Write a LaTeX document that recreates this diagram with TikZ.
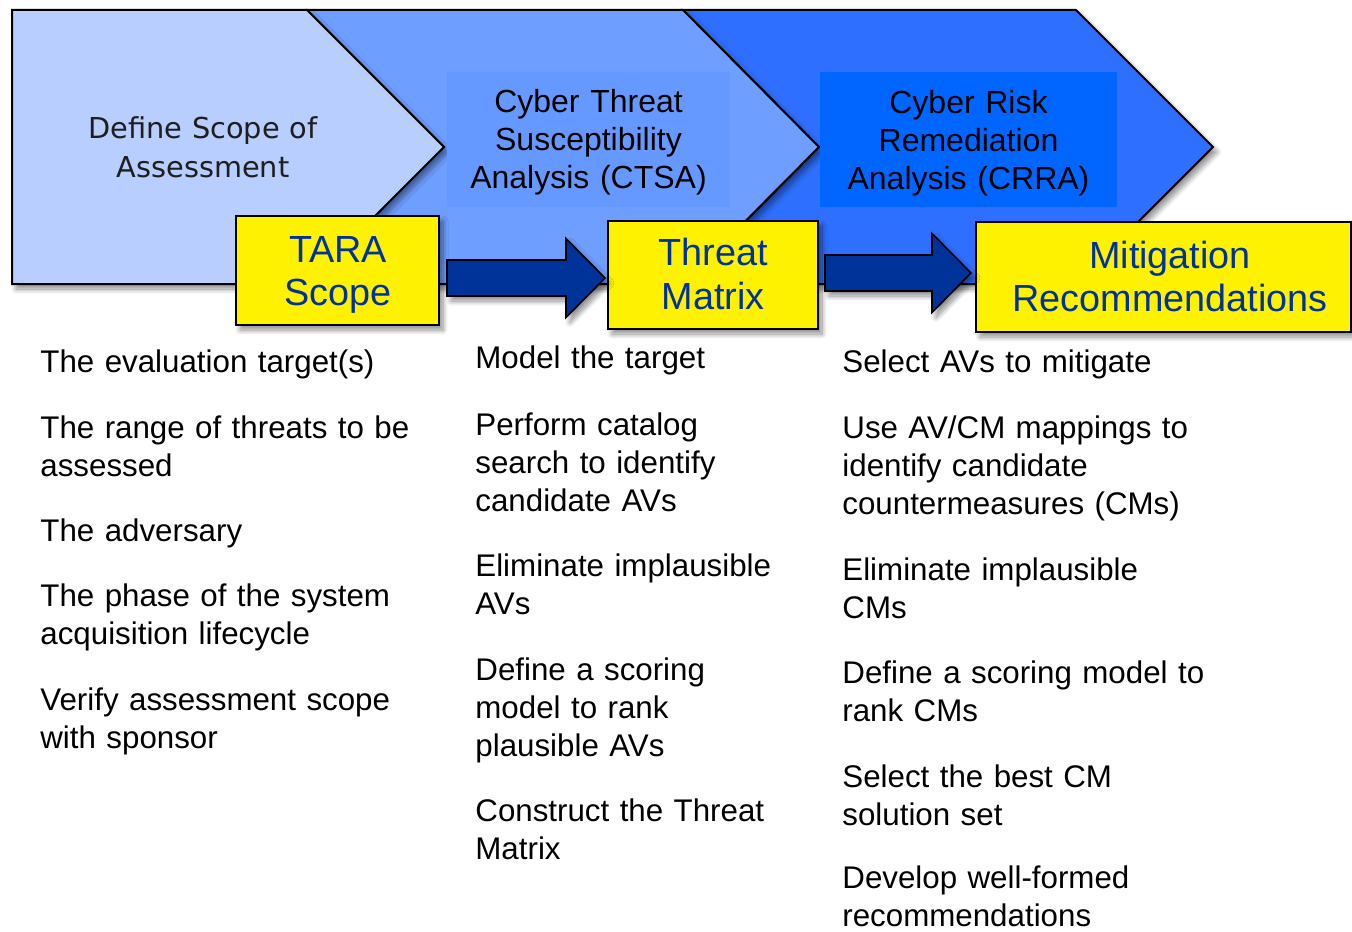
\documentclass[tikz,border=0pt]{standalone}
\usepackage{fontspec}
\setmainfont{Liberation Sans}
\newfontfamily\scopefont{DejaVu Sans}
\usetikzlibrary{calc,shadows.blur}

\definecolor{phaseA}{HTML}{B8CEFF}
\definecolor{phaseB}{HTML}{6E9EFF}
\definecolor{phaseC}{HTML}{2E6FFF}
\definecolor{panelB}{HTML}{6699FF}
\definecolor{panelC}{HTML}{0066FF}
\definecolor{navy}{HTML}{003399}
\definecolor{inkgray}{HTML}{1E1E1E}

\tikzset{
  softshadow/.style={blur shadow={shadow xshift=2pt, shadow yshift=-2.5pt,
      shadow blur radius=2.5pt, shadow blur steps=10, shadow opacity=45}},
  phase/.style={draw=black, line width=1pt, line join=miter, softshadow},
  panel/.style={inner sep=0pt, minimum height=67.5pt},
  headtext/.style={font=\fontsize{16}{19}\selectfont, text width=160pt,
      align=center, inner sep=0pt, anchor=base},
  outcome/.style={draw=black, line width=1pt, fill=yellow, inner sep=0pt, softshadow},
  outtext/.style={font=\fontsize{18.9}{21.75}\selectfont, text=navy,
      text width=180pt, align=center, inner sep=0pt, anchor=base},
  flow/.style={draw=black, line width=0.8pt, fill=navy, line join=miter, softshadow},
  task/.style={font=\fontsize{15.65}{19}\selectfont, text width=200pt,
      align=left, inner sep=0pt, anchor=base west},
}

% block arrow: #1 = tail point, #2 = tip point (tip height gives the axis)
\newcommand{\flowarrow}[2]{%
  \draw[flow] let \p1=#1, \p2=#2 in
    (\x1,\y2+9pt) -- (\x2-19.5pt,\y2+9pt) -- (\x2-19.5pt,\y2+19.75pt)
    -- (\x2,\y2) -- (\x2-19.5pt,\y2-19.75pt) -- (\x2-19.5pt,\y2-9pt)
    -- (\x1,\y2-9pt) -- cycle;}

\begin{document}
\begin{tikzpicture}[x=0.5pt,y=-0.5pt]
\useasboundingbox (0,0) rectangle (1352,931);

% three process chevrons, back to front
\draw[phase, fill=phaseC] (683,10) -- (1076,10) -- (1213,147) -- (1076,284)
  -- (683,284) -- (819,147) -- cycle;
\draw[phase, fill=phaseB] (307,10) -- (683,10) -- (819,147) -- (683,284)
  -- (307,284) -- (444,147) -- cycle;
\draw[phase, fill=phaseA] (12,10) -- (307,10) -- (444,147) -- (307,284)
  -- (12,284) -- cycle;

% phase titles
\node[font=\scopefont\fontsize{14.4}{19.5}\selectfont, text=inkgray,
  text width=150pt, align=center, inner sep=0pt, anchor=base]
  (scope-title) at (203,138) {Define Scope of\\Assessment};

\node[panel, fill=panelB, minimum width=141.5pt] (ctsa-panel) at (588.5,139.5) {};
\node[headtext] (ctsa-title) at (588.5,112.5)
  {Cyber Threat\\Susceptibility\\Analysis (CTSA)};

\node[panel, fill=panelC, minimum width=148.5pt] (crra-panel) at (968.5,139.5) {};
\node[headtext] (crra-title) at (968.5,113)
  {Cyber Risk\\Remediation\\Analysis (CRRA)};

% outcome boxes
\node[outcome, minimum width=101.5pt, minimum height=54.5pt] (tara) at (337.5,270.5) {};
\node[outtext] (tara-text) at (338,262) {TARA\\Scope};

\node[outcome, minimum width=105pt, minimum height=54pt] (threat) at (713,275) {};
\node[outtext] (threat-text) at (713,265.5) {Threat\\Matrix};

\node[outcome, minimum width=187.5pt, minimum height=55pt] (mitig) at (1163.5,277) {};
\node[outtext] (mitig-text) at (1170,268) {Mitigation\\Recommendations};

% flow between outcomes
\flowarrow{($(tara.east)+(7,0)$)}{($(threat.west)+(-2,3)$)}
\flowarrow{($(threat.east)+(6,0)$)}{($(mitig.west)+(-4,-4)$)}

% scope activities
\node[task] (s1) at (40,372) {The evaluation target(s)};
\node[task] (s2) at (40,438) {The range of threats to be\\assessed};
\node[task] (s3) at (40,541) {The adversary};
\node[task] (s4) at (40,606) {The phase of the system\\acquisition lifecycle};
\node[task] (s5) at (40,710) {Verify assessment scope\\with sponsor};

% CTSA activities
\node[task] (c1) at (475,368) {Model the target};
\node[task] (c2) at (475,435) {Perform catalog\\search to identify\\candidate AVs};
\node[task] (c3) at (475,576) {Eliminate implausible\\AVs};
\node[task] (c4) at (475,680) {Define a scoring\\model to rank\\plausible AVs};
\node[task] (c5) at (475,821) {Construct the Threat\\Matrix};

% CRRA activities
\node[task] (r1) at (842,372) {Select AVs to mitigate};
\node[task] (r2) at (842,438) {Use AV/CM mappings to\\identify candidate\\countermeasures (CMs)};
\node[task] (r3) at (842,580) {Eliminate implausible\\CMs};
\node[task] (r4) at (842,683) {Define a scoring model to\\rank CMs};
\node[task] (r5) at (842,787) {Select the best CM\\solution set};
\node[task] (r6) at (842,888) {Develop well-formed\\recommendations};
\end{tikzpicture}
\end{document}
